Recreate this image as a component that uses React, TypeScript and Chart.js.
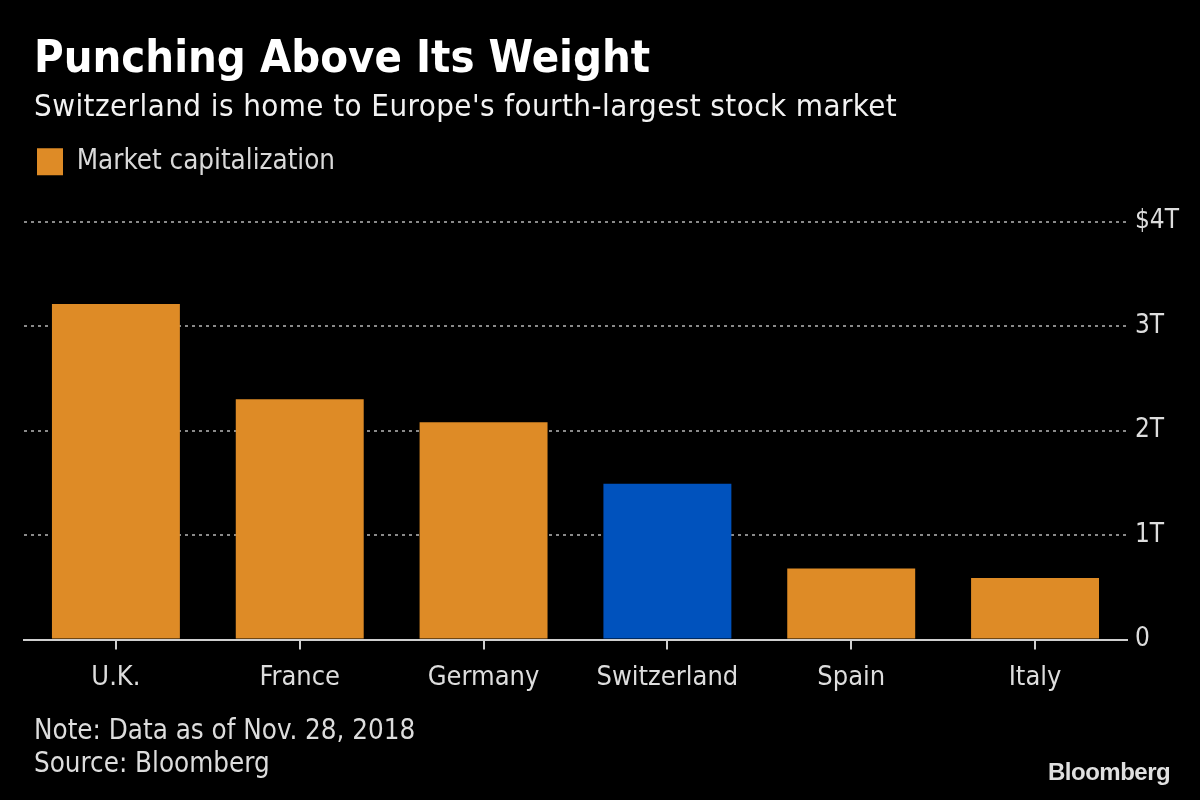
import React, { useEffect, useRef } from "react";
import { Chart, registerables } from "chart.js";

Chart.register(...registerables);

const countries = ["U.K.", "France", "Germany", "Switzerland", "Spain", "Italy"];
const marketCapTrillions = [3.21, 2.3, 2.08, 1.49, 0.68, 0.59];
const barColors = ["#DE8B26", "#DE8B26", "#DE8B26", "#0052BD", "#DE8B26", "#DE8B26"];
const yTickValues = [0, 1, 2, 3, 4];
const yTickLabels = ["0", "1T", "2T", "3T", "$4T"];

const FONT = "'DejaVu Sans Condensed', 'Liberation Sans Narrow', 'Open Sans', sans-serif";

const legendGap = {
  id: "legendGap",
  beforeInit(chart: any) {
    const legend = chart.legend;
    if (!legend) return;
    const origFit = legend.fit;
    legend.fit = function () {
      origFit.bind(legend)();
      this.height += 36;
    };
  },
};

export default function App() {
  const ref = useRef<HTMLCanvasElement | null>(null);

  useEffect(() => {
    if (!ref.current) return;
    const chart = new Chart(ref.current, {
      type: "bar",
      data: {
        labels: countries,
        datasets: [
          {
            label: "Market capitalization",
            data: marketCapTrillions,
            backgroundColor: barColors,
            barPercentage: 0.696,
            categoryPercentage: 1,
          },
        ],
      },
      plugins: [legendGap],
      options: {
        responsive: false,
        animation: false,
        layout: { padding: { top: 135, left: 24, right: 13, bottom: 94 } },
        plugins: {
          title: { display: false },
          tooltip: { enabled: false },
          legend: {
            display: true,
            align: "start",
            labels: {
              color: "#D9D9D9",
              font: { family: FONT, size: 27.5 },
              boxWidth: 26,
              boxHeight: 27,
              padding: 13,
              generateLabels: () => [
                {
                  text: "Market capitalization",
                  fillStyle: barColors[0],
                  strokeStyle: barColors[0],
                  lineWidth: 0,
                  hidden: false,
                  datasetIndex: 0,
                  fontColor: "#D9D9D9",
                },
              ],
            },
          },
        },
        scales: {
          x: {
            offset: true,
            grid: {
              display: true,
              offset: false,
              drawOnChartArea: false,
              drawTicks: true,
              tickLength: 10,
              color: "#CFCFCF",
              lineWidth: 2,
            },
            border: { display: true, color: "#CFCFCF", width: 2 },
            ticks: {
              color: "#DDDDDD",
              font: { family: FONT, size: 27 },
              padding: 12,
              maxRotation: 0,
            },
          },
          y: {
            position: "right",
            min: 0,
            max: 4,
            afterBuildTicks: (axis: any) => {
              axis.ticks = yTickValues.map((v) => ({ value: v }));
            },
            ticks: {
              color: "#DDDDDD",
              font: { family: FONT, size: 26 },
              padding: 8,
              callback: (value: any) => yTickLabels[yTickValues.indexOf(Number(value))] ?? "",
            },
            grid: {
              color: (ctx: any) => (ctx.tick && ctx.tick.value === 0 ? "rgba(0,0,0,0)" : "#8A8A8A"),
              lineWidth: 2,
              drawTicks: false,
            },
            border: { display: false, dash: [3, 4] },
          },
        },
      },
    });
    return () => chart.destroy();
  }, []);

  const textBase: React.CSSProperties = {
    position: "absolute",
    fontFamily: FONT,
    whiteSpace: "nowrap",
    lineHeight: 1,
  };

  return (
    <div style={{ position: "absolute", left: 0, top: 0, width: 1200, height: 800, background: "#000", overflow: "hidden" }}>
      <canvas ref={ref} width={1200} height={800} style={{ position: "absolute", left: 0, top: 0 }} />
      <div style={{ ...textBase, left: 34, top: 34, color: "#FFFFFF", fontSize: 45, fontWeight: 700, letterSpacing: 0 }}>
        Punching Above Its Weight
      </div>
      <div style={{ ...textBase, left: 34, top: 90, color: "#F2F2F2", fontSize: 31, letterSpacing: 0.43 }}>
        Switzerland is home to Europe's fourth-largest stock market
      </div>
      <div style={{ ...textBase, left: 34, top: 716, color: "#DDDDDD", fontSize: 27.5 }}>
        Note: Data as of Nov. 28, 2018
      </div>
      <div style={{ ...textBase, left: 34, top: 749, color: "#DDDDDD", fontSize: 27.5 }}>
        Source: Bloomberg
      </div>
      <div
        style={{
          ...textBase,
          left: 1048,
          top: 760,
          color: "#E0E0E0",
          fontSize: 24,
          fontWeight: 700,
          fontFamily: "'Liberation Sans', Arial, sans-serif",
          letterSpacing: -0.5,
        }}
      >
        Bloomberg
      </div>
    </div>
  );
}
